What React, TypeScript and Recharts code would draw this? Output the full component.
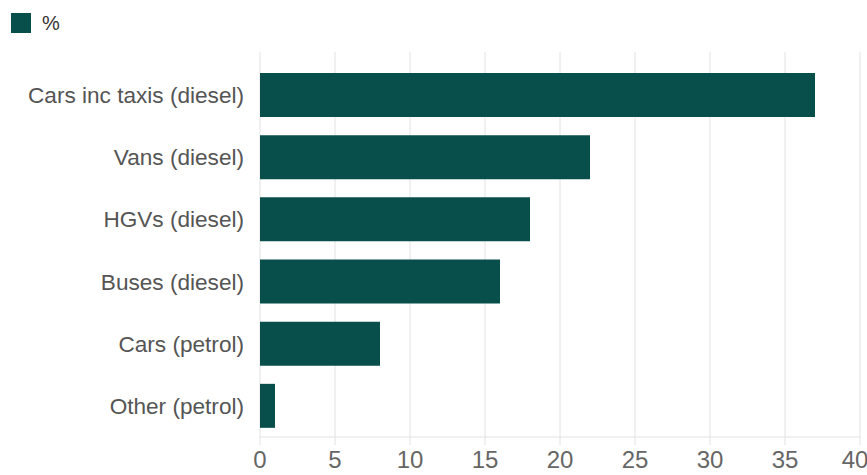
import React from 'react';
import { Bar, BarChart, CartesianGrid, XAxis, YAxis } from 'recharts';

const categories = [
    'Cars inc taxis (diesel)',
    'Vans (diesel)',
    'HGVs (diesel)',
    'Buses (diesel)',
    'Cars (petrol)',
    'Other (petrol)',
];
const shares = [37, 22, 18, 16, 8, 1];
const xTicks = [0, 5, 10, 15, 20, 25, 30, 35, 40];

const data = categories.map((name, i) => ({ name, pct: shares[i] }));

const BAR_COLOR = '#084f4c';
const FONT = '"Liberation Sans", Arial, sans-serif';

const App: React.FC = () => {
    return (
        <div style={{ position: 'absolute', left: 0, top: 0, width: 867, height: 475, background: '#fff' }}>
            {/* legend drawn outside the chart so it doesn't push the plot area down */}
            <div
                style={{
                    position: 'absolute',
                    left: 11,
                    top: 13,
                    display: 'flex',
                    alignItems: 'center',
                    fontFamily: FONT,
                }}
            >
                <span style={{ width: 20, height: 20, background: BAR_COLOR, display: 'inline-block' }} />
                <span style={{ marginLeft: 11, fontSize: 20, color: '#333', lineHeight: '20px' }}>%</span>
            </div>
            <BarChart
                width={867}
                height={475}
                data={data}
                layout="vertical"
                margin={{ top: 52, right: 7, bottom: 0, left: 0 }}
                style={{ fontFamily: FONT }}
            >
                <CartesianGrid horizontal={false} stroke="#e2e2e2" />
                <XAxis
                    type="number"
                    domain={[0, 40]}
                    ticks={xTicks}
                    height={38}
                    axisLine={{ stroke: '#e2e2e2' }}
                    tickLine={{ stroke: '#e2e2e2' }}
                    tickSize={8}
                    tickMargin={6}
                    tick={{ fill: '#666', fontSize: 24 }}
                />
                <YAxis
                    type="category"
                    dataKey="name"
                    width={260}
                    padding={{ top: 12, bottom: 0 }}
                    axisLine={false}
                    tickLine={false}
                    tickSize={0}
                    tickMargin={16}
                    tick={{ fill: '#555', fontSize: 22.6 }}
                />
                <Bar dataKey="pct" name="%" fill={BAR_COLOR} barSize={44} isAnimationActive={false} />
            </BarChart>
        </div>
    );
};

export default App;
